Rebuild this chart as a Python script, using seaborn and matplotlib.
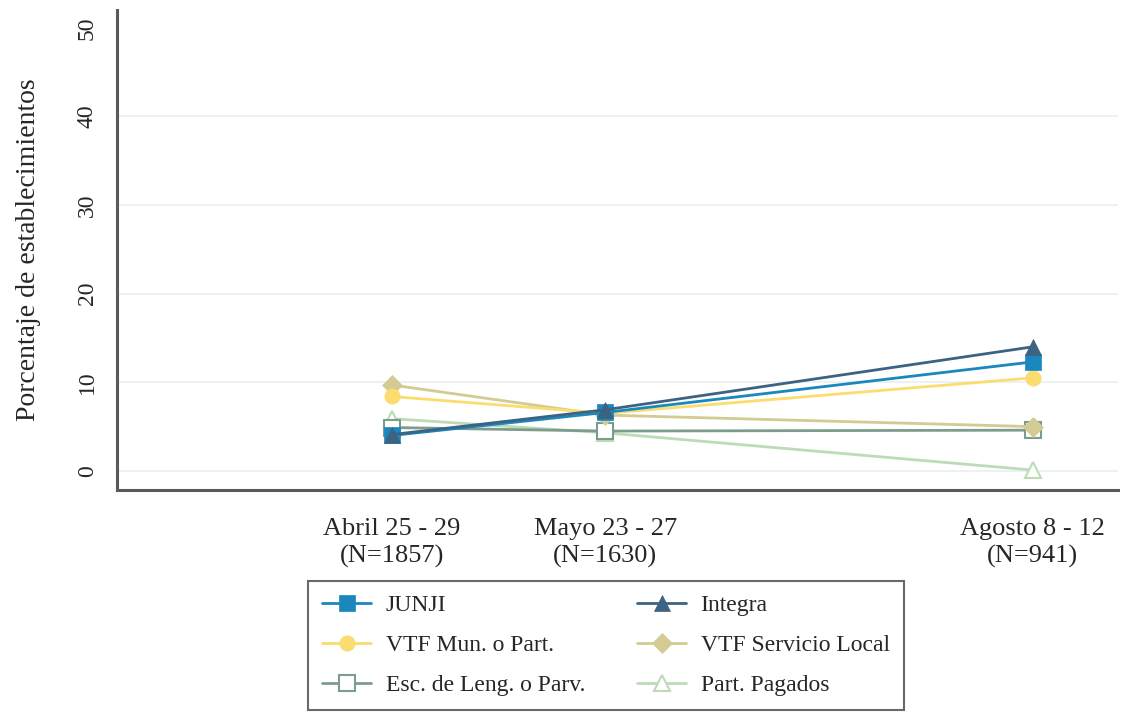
import pandas as pd
import matplotlib.pyplot as plt
import seaborn as sns
import matplotlib

# data
periodos = ["", "Abril 25 - 29\n(N=1857)", "Mayo 23 - 27\n(N=1630)", "", "Agosto 8 - 12\n(N=941)"]
x_pos = [1, 2, 4]

junji = [4.0, 6.6, 12.3]
integra = [4.1, 6.9, 14.0]
vtf_mun = [8.4, 6.5, 10.5]
vtf_serv = [9.7, 6.3, 5.0]
esc_leng = [4.9, 4.5, 4.6]
part_pag = [5.9, 4.3, 0.1]

sns.set_style("white")
plt.rcParams['font.family'] = ['Liberation Serif', 'DejaVu Serif']

series = [
    # label, values, color, marker, filled
    ("JUNJI", junji, "#1a87bd", "s", True),
    ("VTF Mun. o Part.", vtf_mun, "#fbdc6e", "o", True),
    ("Esc. de Leng. o Parv.", esc_leng, "#7e9c8d", "s", False),
    ("Integra", integra, "#3c6381", "^", True),
    ("VTF Servicio Local", vtf_serv, "#d3cb93", "D", True),
    ("Part. Pagados", part_pag, "#bcdcb8", "^", False),
]

fig = plt.figure(figsize=(11.27, 7.19), dpi=100)
ax = fig.add_axes([0.104, 0.3185, 0.888, 0.6675])

for y in [0, 10, 20, 30, 40]:
    ax.axhline(y, color="#e8f0f2", lw=1.2, zorder=0)

# draw bottom-up so the order of overlap looks like the reference
draw_order = [5, 2, 4, 1, 0, 3]
for i in draw_order:
    lab, vals, col, mk, filled = series[i]
    df = pd.DataFrame({"x": x_pos, "y": vals})
    ms = 11 if mk != "D" else 10
    sns.lineplot(data=df, x="x", y="y", ax=ax, color=col, marker=mk,
                 markersize=ms, linewidth=2,
                 markerfacecolor=col if filled else "white",
                 markeredgecolor=col, markeredgewidth=1.5 if not filled else 0.5,
                 label=lab, legend=False)

ax.set_xlim(-0.285, 4.4)
ax.set_ylim(-2.15, 52)
ax.set_xticks(range(5))
ax.set_xticklabels(periodos, fontsize=19, linespacing=1.3)
ax.set_yticks([0, 10, 20, 30, 40, 50])
ax.set_yticklabels(["0", "10", "20", "30", "40", "50"], rotation=90, va="center", fontsize=17)
ax.set_xlabel("")
ax.set_ylabel("Porcentaje de establecimientos", fontsize=20, labelpad=26)

for s in ["top", "right"]:
    ax.spines[s].set_visible(False)
for s in ["left", "bottom"]:
    ax.spines[s].set_color("#5a5a5a")
    ax.spines[s].set_linewidth(2.2)
ax.tick_params(axis="both", direction="out", length=9, width=1.5, color="#5a5a5a", pad=5)
ax.tick_params(axis="x", pad=11)

handles = {l.get_label(): l for l in ax.lines if not l.get_label().startswith("_")}
order = [s[0] for s in series]
leg = fig.legend([handles[k] for k in order], order, loc="lower left",
                 bbox_to_anchor=(0.273, 0.012, 0.529, 0.17), mode="expand",
                 ncol=2, fontsize=17, frameon=True, fancybox=False,
                 handlelength=2.1, handletextpad=0.6, labelspacing=0.78,
                 borderpad=0.6, borderaxespad=0)
leg.get_frame().set_edgecolor("#444444")
leg.get_frame().set_linewidth(1.5)

plt.savefig("out.png", dpi=100)
